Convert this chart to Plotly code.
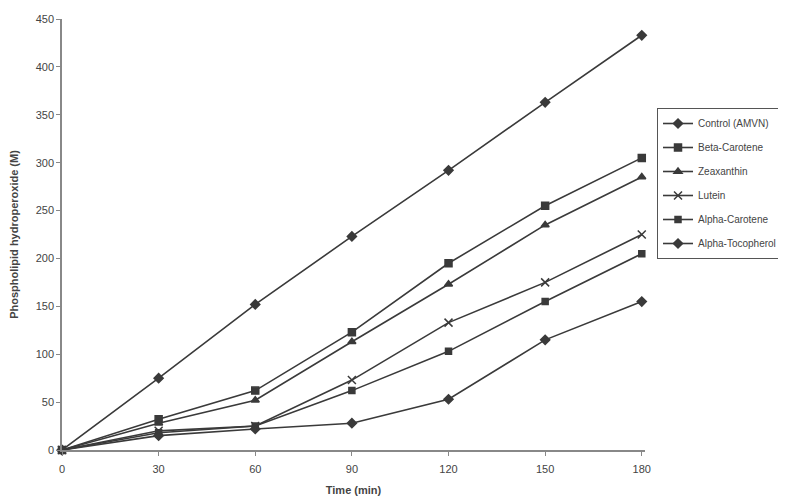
import plotly.graph_objects as go

time_min = [0, 30, 60, 90, 120, 150, 180]
series_names = ["Control (AMVN)", "Beta-Carotene", "Zeaxanthin", "Lutein", "Alpha-Carotene", "Alpha-Tocopherol"]
control = [0, 75, 152, 223, 292, 363, 433]
beta_carotene = [0, 32, 62, 123, 195, 255, 305]
zeaxanthin = [0, 28, 52, 113, 173, 235, 285]
lutein = [0, 20, 25, 73, 133, 175, 225]
alpha_carotene = [0, 18, 25, 62, 103, 155, 205]
alpha_tocopherol = [0, 15, 22, 28, 53, 115, 155]
y_ticks = [0, 50, 100, 150, 200, 250, 300, 350, 400, 450]
x_ticks = [0, 30, 60, 90, 120, 150, 180]

values = [control, beta_carotene, zeaxanthin, lutein, alpha_carotene, alpha_tocopherol]
symbols = ["diamond", "square", "triangle-up", "x-thin-open", "square", "diamond"]
sizes = [7, 7, 7, 8, 6, 7]

FONT = "Liberation Sans Narrow, Arial Narrow, Liberation Sans, Arial"
col = "#3a3a3a"

fig = go.Figure()
for i, (name, vals, sym, sz) in enumerate(zip(series_names, values, symbols, sizes)):
    fig.add_trace(go.Scatter(
        x=time_min, y=vals, name=name, mode="lines+markers", legendgroup=f"g{i}",
        line=dict(color=col, width=1.6),
        marker=dict(symbol=sym, size=sz, color=col, line=dict(color=col, width=1.5)),
        cliponaxis=False,
    ))

# page body adds an 8px offset, so the figure is sized 778x492
fig.update_layout(
    width=778, height=492,
    margin=dict(l=54, r=141, t=11, b=50, autoexpand=False),
    paper_bgcolor="white", plot_bgcolor="white",
    font=dict(family=FONT, color="#444", size=11),
    showlegend=True,
    legend=dict(x=1.0206, y=0.7935, xanchor="left", yanchor="top",
                bordercolor="#555", borderwidth=1, bgcolor="white",
                font=dict(size=10, color="#444"), tracegroupgap=5, itemwidth=30),
    xaxis=dict(range=[0, 181], tickvals=x_ticks, showgrid=False, zeroline=False,
               showline=True, linecolor="#888", linewidth=1.5, ticks="outside",
               ticklen=4, tickcolor="#888", automargin=False, ticklabelstandoff=4,
               title=dict(text="<b>Time (min)</b>", standoff=12, font=dict(size=11, color="#444"))),
    yaxis=dict(range=[0, 450], tickvals=y_ticks, showgrid=False, zeroline=False,
               showline=True, linecolor="#888", linewidth=1.5, ticks="outside",
               ticklen=4, tickcolor="#888", automargin=False,
               title=dict(text="<b>Phospholipid hydroperoxide (M)</b>", standoff=21, font=dict(size=11, color="#444"))),
)

fig.write_html("out.html")
